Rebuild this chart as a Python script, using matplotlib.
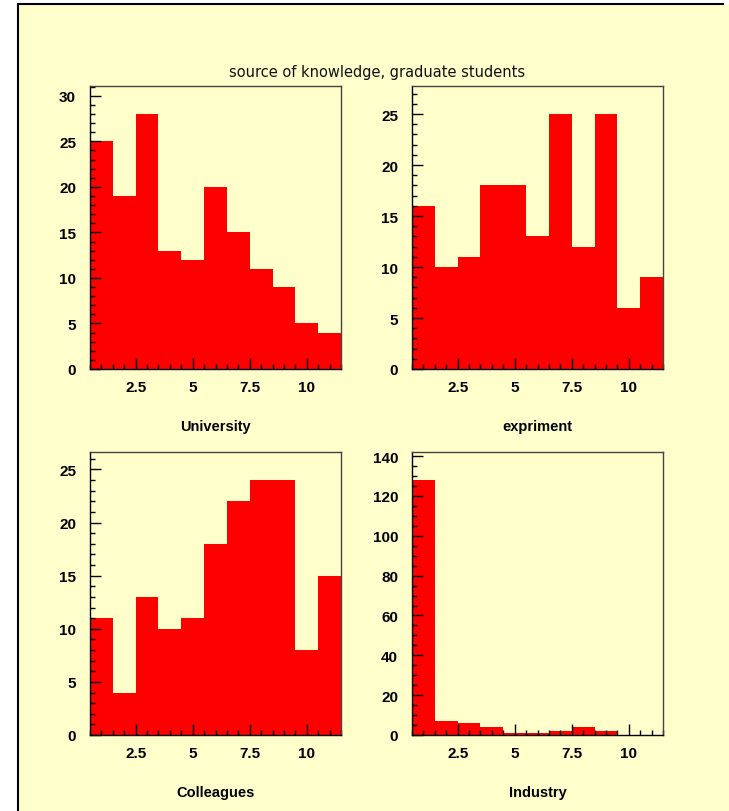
import numpy as np
import matplotlib
matplotlib.use('Agg')
import matplotlib.pyplot as plt
from matplotlib.ticker import MultipleLocator, FixedLocator, FixedFormatter
from matplotlib.patches import Rectangle
from matplotlib.lines import Line2D

# answer categories 1..11, one bin each
bins = np.arange(1, 12)
university = [25, 19, 28, 13, 12, 20, 15, 11, 9, 5, 4]
expriment = [16, 10, 11, 18, 18, 13, 25, 12, 25, 6, 9]
colleagues = [11, 4, 13, 10, 11, 18, 22, 24, 24, 8, 15]
industry = [128, 7, 6, 4, 1, 1, 2, 4, 2, 0, 0]
names = ['University', 'expriment', 'Colleagues', 'Industry']
title = 'source of knowledge, graduate students'

W, H = 729, 812
bg = '#ffffcc'
fig = plt.figure(figsize=(W / 100, H / 100), dpi=100)
fig.patch.set_facecolor('white')

# canvas pad with frame line on top/left
fig.patches.append(Rectangle((18 / W, 0), 1, 1 - 5 / H, transform=fig.transFigure,
                             facecolor=bg, edgecolor='none', zorder=-10))
fig.lines.append(Line2D([17.5 / W, 723 / W], [1 - 5 / H, 1 - 5 / H], transform=fig.transFigure,
                        color='black', lw=1.5, zorder=-5))
fig.lines.append(Line2D([17.5 / W, 17.5 / W], [0, 1 - 5 / H], transform=fig.transFigure,
                        color='black', lw=1.5, zorder=-5))

fig.text(377 / W, 1 - 73 / H, title, ha='center', va='center', fontsize=10.5,
         family='DejaVu Sans', color='#111111')

# pixel boxes: left, top (width 251, height 283)
boxes = [(90, 87), (412, 87), (90, 453), (412, 453)]
data = [university, expriment, colleagues, industry]
ymajor = [5, 5, 5, 20]
yminor = [1, 1, 1, 5]

for (x0, y0), vals, name, ma, mi in zip(boxes, data, names, ymajor, yminor):
    ax = fig.add_axes([x0 / W, 1 - (y0 + 283) / H, 251 / W, 283 / H])
    ax.set_facecolor(bg)
    ax.bar(bins, vals, width=1.0, color='red', edgecolor='none')
    ax.set_xlim(0.5, 11.5)
    ax.set_ylim(0, max(vals) * 1.11)

    ax.xaxis.set_major_locator(FixedLocator([2.5, 5, 7.5, 10]))
    ax.xaxis.set_major_formatter(FixedFormatter(['2.5', '5', '7.5', '10']))
    ax.xaxis.set_minor_locator(MultipleLocator(0.5))
    ax.yaxis.set_major_locator(MultipleLocator(ma))
    ax.yaxis.set_minor_locator(MultipleLocator(mi))

    ax.tick_params(which='both', direction='in', top=False, right=False, width=1, color='black')
    ax.tick_params(which='major', length=8)
    ax.tick_params(which='minor', length=3.6)
    ax.tick_params(axis='y', which='major', pad=10)
    ax.tick_params(axis='x', which='major', pad=8)
    for lab in ax.get_xticklabels() + ax.get_yticklabels():
        lab.set_family('Liberation Sans')
        lab.set_fontweight('bold')
        lab.set_fontsize(11)
    for s in ax.spines.values():
        s.set_linewidth(1)
        s.set_color('black')
    ax.spines['top'].set_color('#444444')
    ax.spines['right'].set_color('#444444')

    ax.set_xlabel(name, family='Liberation Sans', fontweight='bold', fontsize=10.5, labelpad=18)

fig.savefig('out.png', dpi=100, facecolor=fig.get_facecolor())
